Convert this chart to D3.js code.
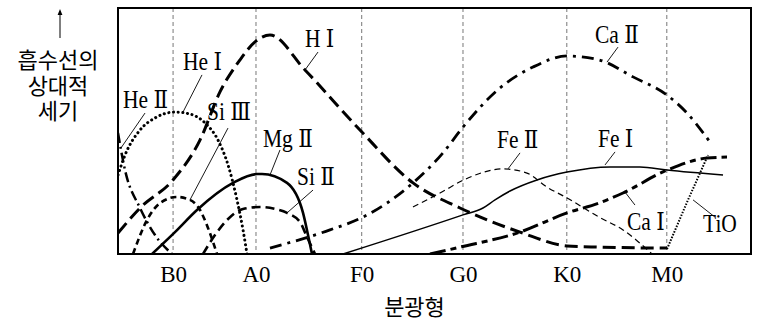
<!DOCTYPE html>
<html lang="ko">
<head>
<meta charset="utf-8">
<title>분광형과 흡수선의 세기</title>
<script src="https://d3js.org/d3.v7.min.js"></script>
<style>
  body { margin: 0; background: #fff; }
  .tick text { font-family: "Liberation Serif", serif; font-size: 23px; fill: #000; }
  .lbl { font-family: "Liberation Serif", "DejaVu Serif", "Noto Sans CJK KR", serif; font-size: 25px; fill: #000; }
  .kr { font-family: "Noto Sans CJK KR", sans-serif; font-size: 22px; fill: #000; }
</style>
</head>
<body>
<svg id="chart"></svg>
<script>
// spectral type ticks (x in 0..100 units along the type axis)
const tickLabels = ["B0", "A0", "F0", "G0", "K0", "M0"];
const tickPos = [8.7, 21.8, 38.5, 54.5, 70.9, 86.7];

// relative line strength, [type position, strength 0..100]
const heII = [[0, 49.2], [1.11, 34.1], [3.48, 18.7], [5.85, 7.7], [8.53, 0]];
const heI = [[0, 32.1], [1.11, 40.2], [3.48, 50.4], [5.85, 55.3], [9.0, 57.7], [11.37, 56.9],
  [13.74, 53.3], [15.8, 46.3], [17.38, 36.2], [18.8, 22.0], [19.75, 9.8], [20.38, 0]];
const hI = [[0, 8.5], [3.48, 18.7], [8.69, 30.1], [12.95, 46.3], [16.11, 65.9], [19.27, 78.9],
  [21.64, 86.2], [24.01, 89.0], [29.54, 74.8], [38.23, 50.4], [46.6, 28.9], [54.03, 18.7],
  [63.51, 8.9], [70.93, 3.3], [75.99, 2.8], [86.73, 2.4]];
const siIII = [[2.37, 0], [4.58, 13.8], [6.64, 20.7], [9.32, 23.2], [11.37, 22.0], [12.95, 17.9],
  [14.22, 10.6], [15.64, 0]];
const mgII = [[5.37, 0], [9.0, 8.9], [12.48, 17.9], [18.17, 28.9], [21.96, 32.5], [22.75, 32.5],
  [26.7, 28.9], [29.23, 16.7], [30.02, 7.7], [30.65, 0]];
const siII = [[13.43, 0], [15.32, 7.7], [17.22, 13.8], [19.75, 18.3], [22.43, 19.1], [24.8, 18.3],
  [26.7, 16.7], [28.75, 13.0], [29.86, 6.9], [31.12, 0]];
const caII = [[24.01, 2.4], [33.49, 9.8], [38.7, 15.0], [46.6, 28.9], [51.34, 41.1], [54.5, 51.6],
  [60.35, 67.5], [65.56, 76.0], [70.93, 80.5], [75.99, 78.9], [81.36, 72.0], [86.73, 64.6],
  [89.89, 57.3], [93.52, 45.5]];
const feII = [[46.6, 19.1], [50.87, 24.8], [55.29, 30.9], [60.82, 34.6], [64.61, 32.9], [67.77, 27.2],
  [70.93, 22.8], [75.99, 15.0], [79.78, 9.8], [84.36, 0]];
const feI = [[35.55, 0], [54.5, 15.9], [57.66, 18.7], [59.56, 22.0], [61.93, 25.6], [66.19, 30.1],
  [70.93, 33.3], [77.73, 35.4], [82.46, 35.4], [86.73, 34.1], [95.58, 32.1]];
const caI = [[49.29, 0], [54.03, 2.8], [63.51, 8.9], [70.93, 16.7], [75.99, 20.7], [79.78, 24.8],
  [86.73, 34.1], [93.05, 39.0], [96.21, 39.4]];
const tiO = [[86.73, 2.0], [90.05, 22.0], [93.21, 40.2]];

const series = [
  { name: "He Ⅱ", data: heII, w: 2.5, dash: "10,4,2,4" },
  { name: "He Ⅰ", data: heI, w: 3, dash: "0.1,4.6", cap: "round" },
  { name: "H Ⅰ", data: hI, w: 3, dash: "13,6" },
  { name: "Si Ⅲ", data: siIII, w: 2.6, dash: "6,4" },
  { name: "Mg Ⅱ", data: mgII, w: 2.6, dash: null },
  { name: "Si Ⅱ", data: siII, w: 2.6, dash: "9,5" },
  { name: "Ca Ⅱ", data: caII, w: 2.8, dash: "12,6,3,6" },
  { name: "Fe Ⅱ", data: feII, w: 1.2, dash: "6,4" },
  { name: "Fe Ⅰ", data: feI, w: 1.5, dash: null },
  { name: "Ca Ⅰ", data: caI, w: 3, dash: "16,5,6,5" },
  { name: "TiO", data: tiO, w: 2, dash: "1.5,1.5", linear: true }
];

// label anchor (text start) and leader line from text to curve
const labels = [
  { t: "He Ⅱ", x: 0.79, y: 59.3, l: [[4.27, 57.3], [0.47, 43.1]] },
  { t: "He Ⅰ", x: 10.27, y: 74.8, l: [[13.27, 72.8], [10.27, 57.7]] },
  { t: "Si Ⅲ", x: 14.06, y: 54.5, l: [[17.38, 51.2], [11.37, 22.0]] },
  { t: "H Ⅰ", x: 29.54, y: 84.1, l: [[31.6, 82.1], [29.54, 74.8]] },
  { t: "Mg Ⅱ", x: 22.91, y: 43.5, l: [[25.59, 42.3], [24.01, 32.1]] },
  { t: "Si Ⅱ", x: 28.28, y: 28.0, l: [[30.81, 26.0], [26.7, 16.7]] },
  { t: "Ca Ⅱ", x: 75.36, y: 85.8, l: [[78.99, 84.1], [77.25, 78.0]] },
  { t: "Fe Ⅱ", x: 59.87, y: 43.1, l: [[63.51, 41.1], [61.61, 34.6]] },
  { t: "Fe Ⅰ", x: 75.83, y: 43.5, l: [[78.52, 41.5], [76.94, 36.2]] },
  { t: "Ca Ⅰ", x: 80.41, y: 9.8, l: [[81.67, 19.9], [80.09, 25.2]] },
  { t: "TiO", x: 92.42, y: 8.9, l: [[94.31, 15.0], [90.84, 22.0]] }
];

const W = 765, H = 323;
const m = { top: 8, left: 118, right: 14, bottom: 69 };
const width = W - m.left - m.right;
const height = H - m.top - m.bottom;

const svg = d3.select("#chart").attr("width", W).attr("height", H);
const g = svg.append("g").attr("transform", `translate(${m.left},${m.top})`);

const x = d3.scaleLinear().domain([0, 100]).range([0, width]);
const y = d3.scaleLinear().domain([0, 100]).range([height, 0]);

// dashed guide lines at each type
g.append("g")
  .selectAll("line")
  .data(tickPos)
  .join("line")
  .attr("x1", d => x(d)).attr("x2", d => x(d))
  .attr("y1", 0).attr("y2", height)
  .attr("stroke", "#777")
  .attr("stroke-width", 1)
  .attr("stroke-dasharray", "4,3");

svg.append("clipPath").attr("id", "plot")
  .append("rect").attr("width", width).attr("height", height);

const line = d3.line().x(d => x(d[0])).y(d => y(d[1]));

g.append("g").attr("clip-path", "url(#plot)")
  .selectAll("path")
  .data(series)
  .join("path")
  .attr("d", s => line.curve(s.linear ? d3.curveLinear : d3.curveMonotoneX)(s.data))
  .attr("fill", "none")
  .attr("stroke", "#000")
  .attr("stroke-width", s => s.w)
  .attr("stroke-dasharray", s => s.dash)
  .attr("stroke-linecap", s => s.cap || "butt");

// frame
g.append("rect")
  .attr("width", width).attr("height", height)
  .attr("fill", "none").attr("stroke", "#000").attr("stroke-width", 2);

// bottom axis labels
g.append("g")
  .attr("transform", `translate(0,${height})`)
  .call(d3.axisBottom(x).tickValues(tickPos).tickSize(0).tickPadding(12)
    .tickFormat((d, i) => tickLabels[i]))
  .call(a => a.select(".domain").remove());

// leader lines and line labels
g.append("g")
  .selectAll("line")
  .data(labels)
  .join("line")
  .attr("x1", d => x(d.l[0][0])).attr("y1", d => y(d.l[0][1]))
  .attr("x2", d => x(d.l[1][0])).attr("y2", d => y(d.l[1][1]))
  .attr("stroke", "#000").attr("stroke-width", 0.9);

g.append("g")
  .selectAll("text")
  .data(labels)
  .join("text")
  .attr("class", "lbl")
  .attr("transform", d => `translate(${x(d.x)},${y(d.y)}) scale(0.86,1)`)
  .text(d => d.t);

// axis titles
svg.append("text").attr("class", "kr")
  .attr("x", m.left + width / 2 - 20).attr("y", 315)
  .attr("text-anchor", "middle")
  .text("분광형");

svg.append("defs").append("marker")
  .attr("id", "arr").attr("viewBox", "0 0 10 10")
  .attr("refX", 5).attr("refY", 5)
  .attr("markerWidth", 6).attr("markerHeight", 8)
  .attr("orient", "auto")
  .append("path").attr("d", "M0,1 L10,5 L0,9 Z").attr("fill", "#000");

svg.append("line")
  .attr("x1", 60).attr("y1", 38).attr("x2", 60).attr("y2", 12)
  .attr("stroke", "#000").attr("stroke-width", 1)
  .attr("marker-end", "url(#arr)");

svg.append("text")
  .attr("class", "kr")
  .attr("text-anchor", "middle")
  .selectAll("tspan")
  .data(["흡수선의", "상대적", "세기"])
  .join("tspan")
  .attr("x", 58)
  .attr("y", (d, i) => 68 + i * 25.5)
  .text(d => d);
</script>
</body>
</html>
